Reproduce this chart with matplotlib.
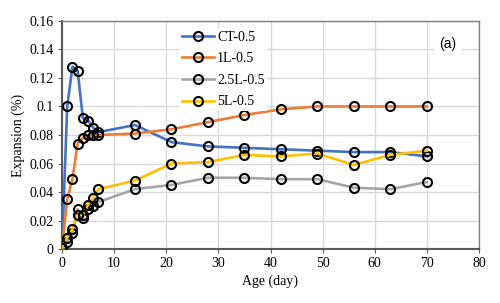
import matplotlib
matplotlib.use("Agg")
import matplotlib.pyplot as plt

days = [0, 1, 2, 3, 4, 5, 6, 7, 14, 21, 28, 35, 42, 49, 56, 63, 70]

ct = [0.000, 0.100, 0.128, 0.125, 0.092, 0.090, 0.085, 0.082, 0.087,
      0.075, 0.072, 0.071, 0.070, 0.069, 0.068, 0.068, 0.065]
l1 = [0.000, 0.035, 0.049, 0.074, 0.078, 0.080, 0.080, 0.080, 0.081,
      0.084, 0.089, 0.094, 0.098, 0.100, 0.100, 0.100, 0.100]
l25 = [0.001, 0.005, 0.011, 0.028, 0.022, 0.028, 0.030, 0.033, 0.042,
       0.045, 0.050, 0.050, 0.049, 0.049, 0.043, 0.042, 0.047]
l5 = [0.001, 0.008, 0.014, 0.024, 0.024, 0.031, 0.036, 0.042, 0.048,
      0.060, 0.061, 0.066, 0.065, 0.067, 0.059, 0.066, 0.069]

series = [("CT-0.5", ct, "#4472C4"),
          ("1L-0.5", l1, "#ED7D31"),
          ("2.5L-0.5", l25, "#A5A5A5"),
          ("5L-0.5", l5, "#FFC000")]

yticks = [0, 0.02, 0.04, 0.06, 0.08, 0.1, 0.12, 0.14, 0.16]
ylabels = ["0", "0.02", "0.04", "0.06", "0.08", "0.1", "0.12", "0.14", "0.16"]
xticks = [0, 10, 20, 30, 40, 50, 60, 70, 80]

plt.rcParams["font.family"] = "Liberation Serif"

fig = plt.figure(figsize=(5.0, 3.03), dpi=100)
ax = fig.add_axes([0.124, 0.178, 0.834, 0.753])

for name, vals, col in series:
    ax.plot(days, vals, color=col, lw=1.9, marker="o", ms=6.5,
            mfc="none", mec="black", mew=1.5, label=name, zorder=3)

ax.set_xlim(0, 80)
ax.set_ylim(0, 0.16)
ax.set_xticks(xticks)
ax.set_yticks(yticks)
ax.set_yticklabels(ylabels)
ax.tick_params(labelsize=10, length=3, color="#595959", pad=3)
ax.grid(True, color="#D9D9D9", lw=1.0)
ax.set_axisbelow(True)
for s in ax.spines.values():
    s.set_color("#7F7F7F")
    s.set_linewidth(1.0)
ax.spines["left"].set_color("#595959")
ax.spines["left"].set_linewidth(1.5)
ax.spines["bottom"].set_color("#595959")
ax.spines["bottom"].set_linewidth(1.5)

ax.set_xlabel("Age (day)", fontsize=10, labelpad=3)
ax.set_ylabel("Expansion (%)", fontsize=10, labelpad=3)

leg = ax.legend(loc="upper left", bbox_to_anchor=(0.265, 1.0), fontsize=10,
                frameon=True, fancybox=False, edgecolor="none",
                facecolor="white", framealpha=1, handlelength=2.3,
                handletextpad=0.2, labelspacing=0.62, borderpad=0.2)
leg.set_zorder(5)

ax.text(0.925, 0.9, "(a)", transform=ax.transAxes, fontsize=10,
        family="Liberation Sans", ha="center", va="center",
        bbox=dict(fc="white", ec="none", pad=4), zorder=5)

fig.savefig("out.png", dpi=100)
